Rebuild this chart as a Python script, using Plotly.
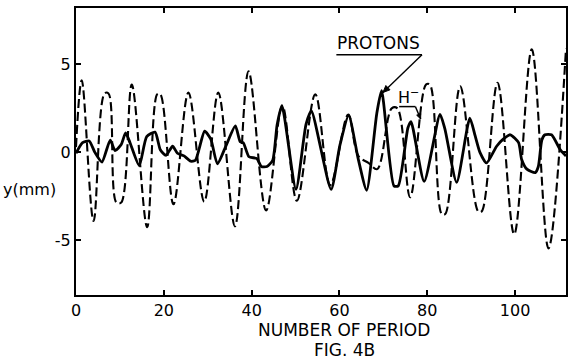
import math
import plotly.graph_objects as go

# ---- data ----
protons_x = [0, 1.5, 3.0, 4.3, 5.9, 7.8, 8.9, 10.3, 11.3, 12.3, 14.4, 16.1, 18.0, 19.2, 20.5,
             22.0, 23.1, 24.6, 26.1, 27.2, 29.3, 30.7, 32.2, 34.2, 36.3, 37.4, 38.1, 39.4,
             41.2, 42.2, 43.5, 44.8, 45.8, 46.9, 50.1, 52.4, 53.6, 58.1, 60.1, 62.1, 64.3,
             66.2, 68.5, 69.6, 72.4, 73.4, 75.6, 76.3, 79.3, 82.9, 84.0, 86.7, 89.7, 90.9,
             92.0, 93.5, 95.8, 97.3, 98.9, 100.8, 101.5, 102.7, 104.6, 105.3, 106.1, 106.8,
             108.3, 110.3, 111.6]
protons_y = [-0.05, 0.55, 0.65, 0.0, -0.55, 0.7, 0.1, 0.45, 1.1, 0.55, -0.75, 0.9, 1.15, 0.15,
             -0.17, 0.35, -0.05, -0.2, -0.5, -0.45, 1.2, 0.75, -0.65, 0.4, 1.5, 0.6, 0.55,
             -0.25, -0.35, -0.8, -0.8, -0.45, 1.55, 2.65, -2.1, 1.6, 2.35, -2.1, 0.4, 2.1, -0.4,
             -2.15, 2.2, 3.5, -1.9, -1.9, 1.4, 1.75, -1.65, 2.15, 1.35, -1.7, 1.95, 0.95,
             0.0, -0.6, 0.35, 0.75, 1.0, 0.55, -0.4, -0.95, -1.15, -0.8, 0.7, 1.0,
             1.0, 0.15, -0.2]

hminus_x = [0, 1.3, 4.0, 6.5, 7.4, 9.2, 10.3, 12.7, 16.2, 18.5, 19.2, 22.2, 25.6, 29.2, 32.4,
            36.2, 39.3, 43.3, 47.0, 50.3, 54.5, 57.9, 62.0, 64.3, 66.6, 68.6, 71.9, 73.2,
            76.1, 79.7, 80.6, 83.3, 84.1, 87.5, 91.6, 92.4, 96.0, 99.8, 103.8, 107.6, 111.6]
hminus_y = [0.3, 4.1, -3.9, 3.35, 3.35, -2.85, -2.85, 3.85, -4.25, 3.3, 3.3, -2.95, 3.4, -2.8, 3.4,
            -4.2, 4.6, -3.3, 2.65, -2.75, 3.3, -1.85, 2.15, -0.2, -0.6, -0.95, 2.5, 2.5,
            -2.55, 3.85, 3.85, -3.5, -3.5, 3.75, -3.35, -3.35, 3.95, -4.65, 5.85, -5.45, 5.9]

x_ticks = [0, 20, 40, 60, 80, 100]
y_ticks = [-5, 0, 5]
x_range = [0, 111.6]
y_range = [-8.1, 8.2]

FONT = "DejaVu Sans"
W, H = 568, 359
M = dict(l=76, r=2, t=8, b=64)

fig = go.Figure()
fig.add_trace(go.Scatter(x=hminus_x, y=hminus_y, mode="lines",
                         line=dict(color="black", width=2.1, dash="9px,4px", shape="spline", smoothing=1.0),
                         name="H-", showlegend=False))
fig.add_trace(go.Scatter(x=protons_x, y=protons_y, mode="lines",
                         line=dict(color="black", width=2.8, shape="spline", smoothing=0.6),
                         name="PROTONS", showlegend=False))

axis_common = dict(showline=True, linecolor="black", linewidth=2, mirror="ticks",
                   ticks="inside", ticklen=5, tickwidth=1.5, tickcolor="black",
                   showgrid=False, zeroline=False, automargin=False,
                   tickfont=dict(family=FONT, size=16, color="black"))

fig.update_layout(
    width=W, height=H, margin=M,
    paper_bgcolor="white", plot_bgcolor="white",
    xaxis=dict(range=x_range, tickvals=x_ticks, ticktext=[str(v) for v in x_ticks], **axis_common),
    yaxis=dict(range=y_range, tickvals=y_ticks, ticktext=[str(v) for v in y_ticks], **axis_common),
)

# axis title and caption
fig.add_annotation(xref="paper", yref="paper", x=0.547, y=-0.122, text="NUMBER OF PERIOD",
                   showarrow=False, yanchor="middle", font=dict(family=FONT, size=17, color="black"))
fig.add_annotation(xref="paper", yref="paper", x=0.547, y=-0.192, text="FIG. 4B",
                   showarrow=False, yanchor="middle", font=dict(family=FONT, size=17, color="black"))
# y label (horizontal)
fig.add_annotation(xref="paper", yref="y", x=-0.153, y=-2.1, text="y(mm)", showarrow=False,
                   xanchor="left", font=dict(family=FONT, size=16, color="black"))

# pixel scale of data units, for drawing arrowheads
sx = (W - M["l"] - M["r"]) / (x_range[1] - x_range[0])
sy = (H - M["t"] - M["b"]) / (y_range[1] - y_range[0])


def arrow(x0, y0, x1, y1, head=7.0, half=3.0, width=1.4):
    fig.add_shape(type="line", x0=x0, y0=y0, x1=x1, y1=y1, line=dict(color="black", width=width))
    dx, dy = (x1 - x0) * sx, (y1 - y0) * sy
    n = math.hypot(dx, dy)
    ux, uy = dx / n, dy / n
    bx, by = x1 * sx - ux * head, y1 * sy - uy * head
    p1 = (bx - uy * half, by + ux * half)
    p2 = (bx + uy * half, by - ux * half)
    path = "M {} {} L {} {} L {} {} Z".format(x1, y1, p1[0] / sx, p1[1] / sy, p2[0] / sx, p2[1] / sy)
    fig.add_shape(type="path", path=path, fillcolor="black", line=dict(color="black", width=1))


# PROTONS label with underline and arrow
fig.add_annotation(x=69.0, y=6.2, text="PROTONS", showarrow=False,
                   font=dict(family=FONT, size=17, color="black"))
fig.add_shape(type="line", x0=59.3, x1=78.8, y0=5.55, y1=5.55, line=dict(color="black", width=1.5))
arrow(78.8, 5.55, 69.9, 3.4)

# H- label with underline and pointer
fig.add_annotation(x=75.7, y=3.15, text="H<sup>−</sup>", showarrow=False,
                   font=dict(family=FONT, size=16, color="black"))
fig.add_shape(type="line", x0=73.6, x1=77.3, y0=2.6, y1=2.6, line=dict(color="black", width=1.5))
arrow(77.3, 2.6, 78.5, 1.9, head=5.0, half=2.2)

fig.write_html("out.html", config={"displayModeBar": False},
               post_script="document.body.style.margin='0';")
